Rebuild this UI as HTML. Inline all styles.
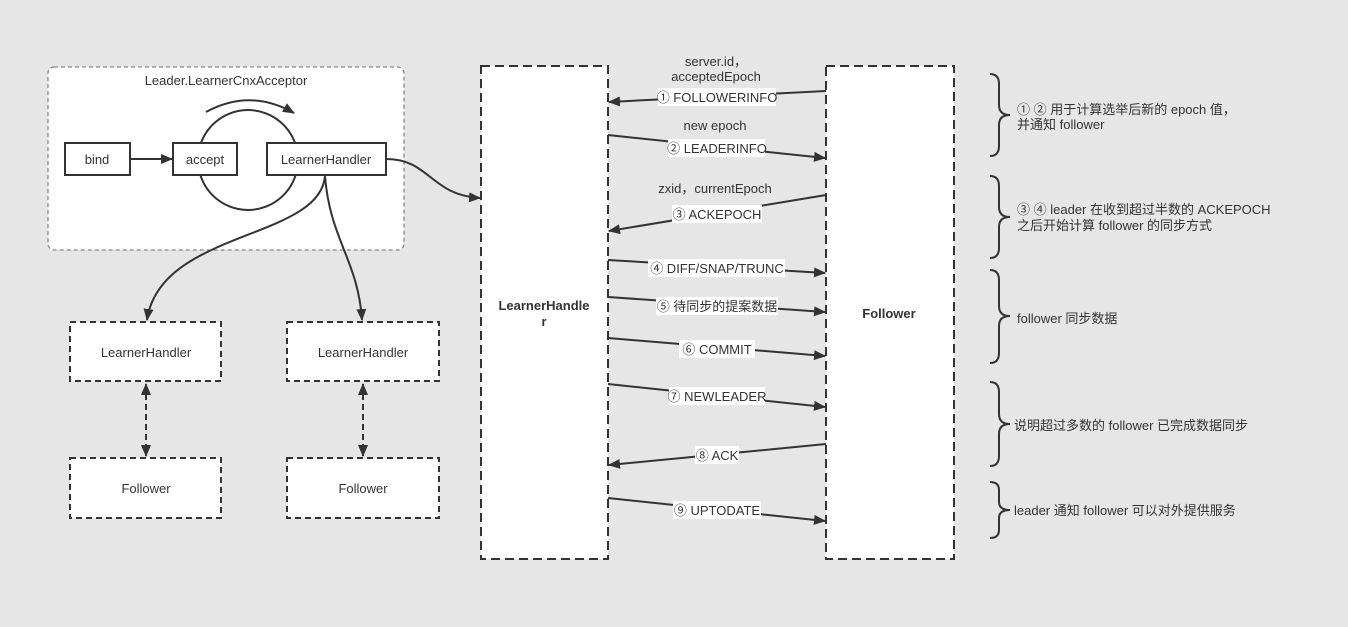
<!DOCTYPE html>
<html><head><meta charset="utf-8"><style>
html,body{margin:0;padding:0;background:#e6e6e6;}
svg text{font-family:"Liberation Sans","Noto Sans CJK SC",sans-serif;fill:#333;}
</style></head><body>
<svg width="1348" height="622" viewBox="0 0 1348 622" xmlns="http://www.w3.org/2000/svg">
<defs>
<marker id="a" markerWidth="12" markerHeight="10" refX="11" refY="5" orient="auto" markerUnits="userSpaceOnUse"><path d="M0,0 L12,5 L0,10 Z" fill="#333"/></marker>
<marker id="as" markerWidth="12" markerHeight="10" refX="1" refY="5" orient="auto" markerUnits="userSpaceOnUse"><path d="M12,0 L0,5 L12,10 Z" fill="#333"/></marker>
</defs>
<rect width="1348" height="622" fill="#e6e6e6"/>
<!-- acceptor group -->
<rect x="48" y="67" width="356" height="183" rx="6" fill="#fff" stroke="#888" stroke-width="1.3" stroke-dasharray="4,3"/>
<text x="226" y="85" font-size="13" text-anchor="middle">Leader.LearnerCnxAcceptor</text>
<circle cx="248" cy="160" r="50" fill="none" stroke="#333" stroke-width="2"/>
<path d="M206,112 Q250,88 294,113" fill="none" stroke="#333" stroke-width="2" marker-end="url(#a)"/>
<rect x="65" y="143" width="65" height="32" fill="#fff" stroke="#333" stroke-width="2"/>
<text x="97" y="164" font-size="13" text-anchor="middle">bind</text>
<line x1="130" y1="159" x2="172" y2="159" stroke="#333" stroke-width="2" marker-end="url(#a)"/>
<rect x="173" y="143" width="64" height="32" fill="#fff" stroke="#333" stroke-width="2"/>
<text x="205" y="164" font-size="13" text-anchor="middle">accept</text>
<rect x="267" y="143" width="119" height="32" fill="#fff" stroke="#333" stroke-width="2"/>
<text x="326" y="164" font-size="13" text-anchor="middle">LearnerHandler</text>
<path d="M386,159 C430,159 430,195 480,198" fill="none" stroke="#333" stroke-width="2" marker-end="url(#a)"/>
<path d="M325,176 C320,240 160,230 147,320" fill="none" stroke="#333" stroke-width="2" marker-end="url(#a)"/>
<path d="M325,176 C330,240 358,260 362,320" fill="none" stroke="#333" stroke-width="2" marker-end="url(#a)"/>
<!-- small boxes -->
<g fill="#fff" stroke="#333" stroke-width="2" stroke-dasharray="6,4">
<rect x="70" y="322" width="151" height="59"/>
<rect x="287" y="322" width="152" height="59"/>
<rect x="70" y="458" width="151" height="60"/>
<rect x="287" y="458" width="152" height="60"/>
</g>
<text x="146" y="357" font-size="13" text-anchor="middle">LearnerHandler</text>
<text x="363" y="357" font-size="13" text-anchor="middle">LearnerHandler</text>
<text x="146" y="493" font-size="13" text-anchor="middle">Follower</text>
<text x="363" y="493" font-size="13" text-anchor="middle">Follower</text>
<g stroke="#333" stroke-width="2" stroke-dasharray="6,4" fill="none">
<line x1="146" y1="384" x2="146" y2="456" marker-start="url(#as)" marker-end="url(#a)"/>
<line x1="363" y1="384" x2="363" y2="456" marker-start="url(#as)" marker-end="url(#a)"/>
</g>
<!-- big boxes -->
<g fill="#fff" stroke="#333" stroke-width="2" stroke-dasharray="9,5">
<rect x="481" y="66" width="127" height="493"/>
<rect x="826" y="66" width="128" height="493"/>
</g>
<text x="544" y="310" font-size="13" font-weight="bold" text-anchor="middle">LearnerHandle</text>
<text x="544" y="326" font-size="13" font-weight="bold" text-anchor="middle">r</text>
<text x="889" y="318" font-size="13" font-weight="bold" text-anchor="middle">Follower</text>
<!-- messages -->
<g stroke="#333" stroke-width="2" fill="none">
<line x1="826" y1="91" x2="609" y2="102" marker-end="url(#a)"/>
<line x1="608" y1="135" x2="825" y2="158" marker-end="url(#a)"/>
<line x1="826" y1="195" x2="609" y2="231" marker-end="url(#a)"/>
<line x1="608" y1="260" x2="825" y2="273" marker-end="url(#a)"/>
<line x1="608" y1="297" x2="825" y2="312" marker-end="url(#a)"/>
<line x1="608" y1="338" x2="825" y2="356" marker-end="url(#a)"/>
<line x1="608" y1="384" x2="825" y2="407" marker-end="url(#a)"/>
<line x1="826" y1="444" x2="609" y2="465" marker-end="url(#a)"/>
<line x1="608" y1="498" x2="825" y2="521" marker-end="url(#a)"/>
</g>
<g fill="#fff">
<rect x="658" y="88" width="118" height="18"/>
<rect x="668" y="139" width="97" height="18"/>
<rect x="672" y="205" width="90" height="18"/>
<rect x="648" y="259" width="137" height="18"/>
<rect x="656" y="297" width="122" height="18"/>
<rect x="679" y="340" width="76" height="18"/>
<rect x="669" y="387" width="96" height="18"/>
<rect x="695" y="446" width="44" height="18"/>
<rect x="673" y="501" width="88" height="18"/>
</g>
<g font-size="13" text-anchor="middle">
<text x="716" y="66">server.id，</text>
<text x="716" y="81">acceptedEpoch</text>
<text x="717" y="102">① FOLLOWERINFO</text>
<text x="715" y="130">new epoch</text>
<text x="717" y="153">② LEADERINFO</text>
<text x="715" y="193">zxid，currentEpoch</text>
<text x="717" y="219">③ ACKEPOCH</text>
<text x="717" y="273">④ DIFF/SNAP/TRUNC</text>
<text x="717" y="311">⑤ 待同步的提案数据</text>
<text x="717" y="354">⑥ COMMIT</text>
<text x="717" y="401">⑦ NEWLEADER</text>
<text x="717" y="460">⑧ ACK</text>
<text x="717" y="515">⑨ UPTODATE</text>
</g>
<!-- braces -->
<g stroke="#333" stroke-width="2" fill="none">
<path d="M990,74 Q999,74 999,84 L999,105 Q999,115 1010,115 Q999,115 999,125 L999,146 Q999,156 990,156"/>
<path d="M990,176 Q999,176 999,186 L999,207 Q999,217 1010,217 Q999,217 999,227 L999,248 Q999,258 990,258"/>
<path d="M990,270 Q999,270 999,280 L999,306 Q999,316 1010,316 Q999,316 999,326 L999,353 Q999,363 990,363"/>
<path d="M990,382 Q999,382 999,392 L999,414 Q999,424 1010,424 Q999,424 999,434 L999,456 Q999,466 990,466"/>
<path d="M990,482 Q999,482 999,490 L999,502 Q999,510 1010,510 Q999,510 999,518 L999,530 Q999,538 990,538"/>
</g>
<g font-size="13">
<text x="1017" y="114">① ② 用于计算选举后新的 epoch 值，</text>
<text x="1017" y="129">并通知 follower</text>
<text x="1017" y="214">③ ④ leader 在收到超过半数的 ACKEPOCH</text>
<text x="1017" y="230">之后开始计算 follower 的同步方式</text>
<text x="1017" y="323">follower 同步数据</text>
<text x="1014" y="430">说明超过多数的 follower 已完成数据同步</text>
<text x="1014" y="515">leader 通知 follower 可以对外提供服务</text>
</g>
</svg>
</body></html>
